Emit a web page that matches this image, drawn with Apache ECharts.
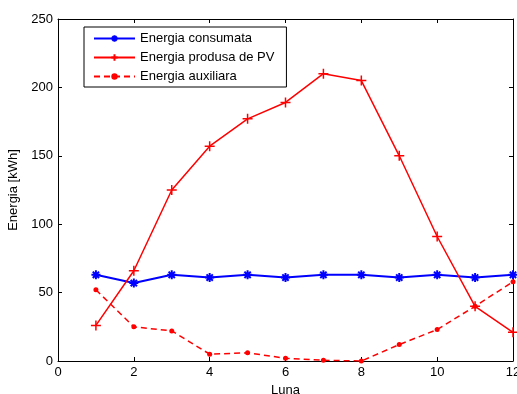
<!DOCTYPE html>
<html>
<head>
<meta charset="utf-8">
<script src="https://cdn.jsdelivr.net/npm/echarts@6/dist/echarts.min.js"></script>
<style>html,body{margin:0;padding:0;background:#fff}#c{width:517px;height:394px}</style>
</head>
<body>
<div id="c"></div>
<script>
const months = [1,2,3,4,5,6,7,8,9,10,11,12];
const consumata = [63,57,63,61,63,61,63,63,61,63,61,63];
const produsaPV = [26,66,125,157,177,189,210,205,150,91,40,21];
const auxiliara = [52,25,22,5,6,2,0.5,0,12,23,40,58];
const xTicks = [0,2,4,6,8,10,12];
const yTicks = [0,50,100,150,200,250];

const pair = (vals) => months.map((m,i)=>[m, vals[i]]);
const starPath = 'path://M0,-10 L0,10 M-10,0 L10,0 M-7,-7 L7,7 M-7,7 L7,-7';
const plusPath = 'path://M0,-10 L0,10 M-10,0 L10,0';
const font = 'Liberation Sans, Arial, sans-serif';

const chart = echarts.init(document.getElementById('c'));
const axisCommon = {
  axisLine:{show:true, onZero:false, lineStyle:{color:'#000', width:1}},
  axisTick:{show:true, inside:true, length:4, lineStyle:{color:'#000'}},
  splitLine:{show:false}
};
chart.setOption({
  animation:false,
  backgroundColor:'#fff',
  grid:{left:58, top:19, right:4, bottom:33, show:false, containLabel:false, outerBoundsMode:'none'},
  legend:{
    orient:'vertical', left:84, top:27,
    padding:[5,12,4,9], itemGap:6, itemWidth:41, itemHeight:8,
    borderColor:'#000', borderWidth:1, backgroundColor:'#fff', borderRadius:0,
    textStyle:{fontFamily:font, fontSize:13, color:'#000'},
    data:['Energia consumata','Energia produsa de PV','Energia auxiliara']
  },
  xAxis:[
    Object.assign({type:'value', min:0, max:12, interval:2, position:'bottom',
      name:'Luna', nameLocation:'middle', nameGap:21,
      nameTextStyle:{fontFamily:font, fontSize:13, color:'#000'},
      axisLabel:{fontFamily:font, fontSize:13, color:'#000', margin:5,
        formatter:(v)=> xTicks.includes(v) ? String(v) : ''}}, axisCommon),
    Object.assign({type:'value', min:0, max:12, interval:2, position:'top',
      axisLabel:{show:false}}, axisCommon)
  ],
  yAxis:[
    Object.assign({type:'value', min:0, max:250, interval:50, position:'left',
      name:'Energia [kWh]', nameLocation:'middle', nameGap:37, nameRotate:90,
      nameTextStyle:{fontFamily:font, fontSize:13, color:'#000'},
      axisLabel:{fontFamily:font, fontSize:13, color:'#000', margin:5,
        formatter:(v)=> yTicks.includes(v) ? String(v) : ''}}, axisCommon),
    Object.assign({type:'value', min:0, max:250, interval:50, position:'right',
      axisLabel:{show:false}}, axisCommon)
  ],
  series:[
    {name:'Energia consumata', type:'line', data:pair(consumata),
      lineStyle:{color:'#0000ff', width:2}, symbol:starPath, symbolSize:9,
      itemStyle:{color:'#0000ff', borderColor:'#0000ff', borderWidth:2}},
    {name:'Energia produsa de PV', type:'line', data:pair(produsaPV),
      lineStyle:{color:'#ff0000', width:1.5}, symbol:plusPath, symbolSize:10,
      itemStyle:{color:'#ff0000', borderColor:'#ff0000', borderWidth:1.5}},
    {name:'Energia auxiliara', type:'line', data:pair(auxiliara),
      lineStyle:{color:'#ff0000', width:1.5, type:[6,4]}, symbol:'circle', symbolSize:5,
      itemStyle:{color:'#ff0000'}}
  ]
});
</script>
</body>
</html>
